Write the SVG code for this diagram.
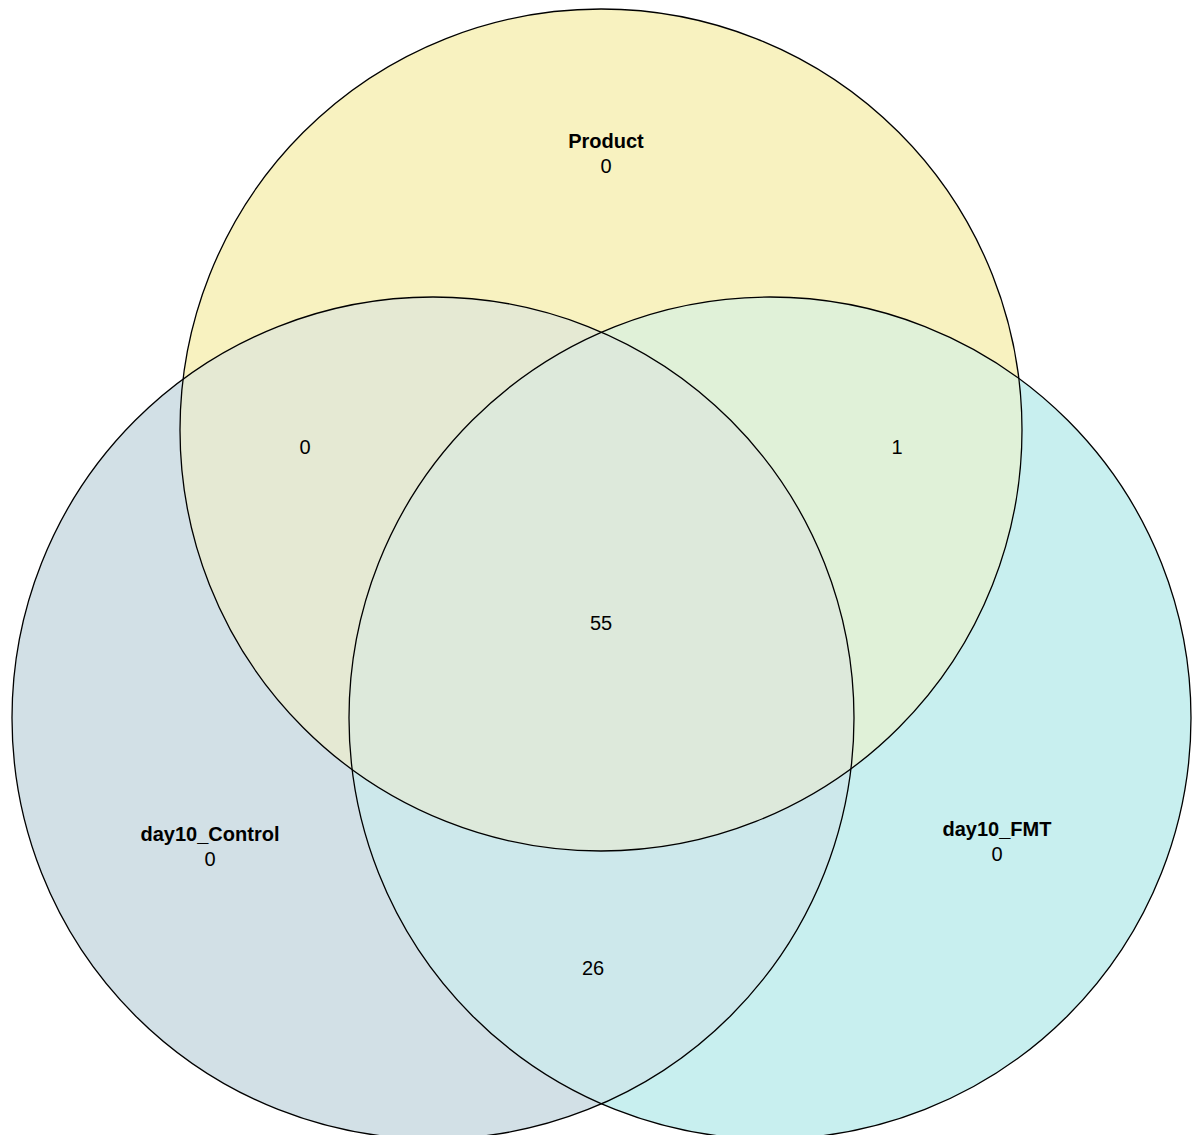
<svg xmlns="http://www.w3.org/2000/svg" width="1196" height="1135" viewBox="0 0 1196 1135">
<style>
.t{font-family:"Liberation Sans",Arial,sans-serif;font-size:20px;fill:#000;text-anchor:middle}
.b{font-weight:bold}
</style>
<defs>
<clipPath id="cpC"><circle cx="433" cy="718" r="421"/></clipPath>
<clipPath id="cpF"><circle cx="770" cy="718" r="421"/></clipPath>
</defs>
<rect width="1196" height="1135" fill="#fff"/>
<g id="day10_Control"><circle cx="433" cy="718" r="421" fill="#D2E0E6"/></g>
<g id="day10_FMT"><circle cx="770" cy="718" r="421" fill="#C8EFEF"/></g>
<g id="Product"><circle cx="601" cy="430" r="421" fill="#F8F2C0"/></g>
<g id="overlaps">
<circle cx="770" cy="718" r="421" fill="#CDE8EB" clip-path="url(#cpC)"/>
<circle cx="601" cy="430" r="421" fill="#E5E9D3" clip-path="url(#cpC)"/>
<circle cx="601" cy="430" r="421" fill="#E0F1D8" clip-path="url(#cpF)"/>
<g clip-path="url(#cpC)"><circle cx="601" cy="430" r="421" fill="#DDE9DB" clip-path="url(#cpF)"/></g>
</g>
<g id="outlines" fill="none" stroke="#000" stroke-width="1.3">
<circle cx="433" cy="718" r="421"/>
<circle cx="770" cy="718" r="421"/>
<circle cx="601" cy="430" r="421"/>
</g>
<g id="labels">
<text class="t b" x="606" y="148">Product</text>
<text class="t" x="606" y="173">0</text>
<text class="t b" x="210" y="841">day10_Control</text>
<text class="t" x="210" y="866">0</text>
<text class="t b" x="997" y="836">day10_FMT</text>
<text class="t" x="997" y="861">0</text>
<text class="t" x="305" y="454">0</text>
<text class="t" x="897" y="454">1</text>
<text class="t" x="601" y="630">55</text>
<text class="t" x="593" y="975">26</text>
</g>
</svg>
